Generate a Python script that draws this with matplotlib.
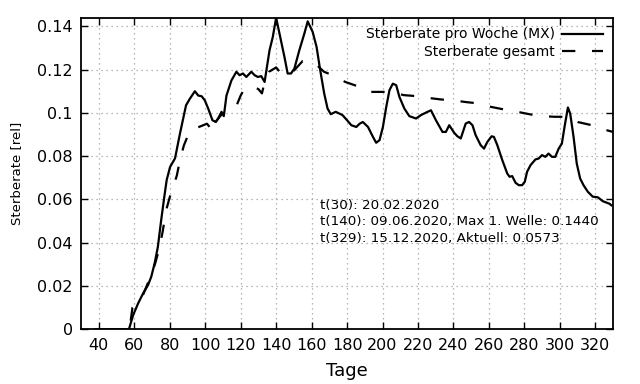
import matplotlib
matplotlib.use("Agg")
import matplotlib.pyplot as plt

# Weekly death rate (MX)
t_mx = [38, 57, 59.4, 62.2, 65, 67.8, 69.6, 71.5, 73.3, 75.2, 77, 78.3, 80.2, 83, 85.8,
        89.2, 91.4, 94.2, 96.1, 98, 99.8, 101.7, 104.1, 106, 107.3, 109.2, 110.5, 112,
        114.8, 117.6, 119.4, 121.3, 123.2, 126, 127.9, 129.7, 131.6, 133.5, 134.4, 136.3,
        138.1, 140, 141.9, 144.7, 146.5, 148.4, 150.3, 153.1, 155.9, 157.8, 160.6, 162.8,
        164.7, 167.1, 169, 170.8, 173.6, 177.4, 180, 182.4, 185.2, 187.1, 188.9, 191.8,
        194.6, 196.4, 198.3, 200.2, 202.1, 203.9, 205.8, 207.7, 209.5, 212.3, 215.1, 218.9,
        221.7, 225.4, 227.3, 230.1, 233.8, 235.7, 237.6, 240.4, 242.2, 244.1, 246.9, 248.8,
        250.7, 252.5, 255.3, 257.2, 259.1, 261.5, 262.8, 264.7, 267.5, 270.3, 271.6, 273.1,
        275, 276.8, 278.7, 280.2, 281.5, 283.4, 286.2, 288, 289.9, 291.8, 293.6, 295.5,
        297.4, 299.3, 301.1, 302.6, 304.5, 305.8, 307.7, 309.5, 311.4, 313.3, 315.7, 318.5,
        321.4, 324.2, 328, 329]
v_mx = [0, 0, 0.0066, 0.012, 0.0166, 0.0205, 0.0243, 0.0305, 0.038, 0.0505, 0.0615, 0.069,
        0.075, 0.079, 0.0905, 0.1035, 0.1066, 0.110, 0.108, 0.1077, 0.1058, 0.102, 0.0966,
        0.0958, 0.0974, 0.1005, 0.0985, 0.108, 0.115, 0.119, 0.1174, 0.1182, 0.1166, 0.119,
        0.1174, 0.1166, 0.117, 0.1143, 0.119, 0.129, 0.135, 0.1440, 0.1366, 0.1258, 0.1182,
        0.1182, 0.1205, 0.129, 0.1366, 0.1423, 0.1374, 0.1305, 0.1205, 0.109, 0.102, 0.0994,
        0.1005, 0.099, 0.0966, 0.0943, 0.0935, 0.095, 0.0958, 0.0935, 0.0889, 0.0862, 0.0874,
        0.0935, 0.1028, 0.1105, 0.1135, 0.1128, 0.1074, 0.102, 0.0985, 0.0974, 0.099, 0.1005,
        0.1012, 0.0966, 0.0912, 0.0912, 0.0943, 0.0908, 0.0892, 0.0882, 0.0951, 0.0958,
        0.0943, 0.0897, 0.0851, 0.0835, 0.0866, 0.0892, 0.0889, 0.0851, 0.0782, 0.072,
        0.0705, 0.0708, 0.0677, 0.0666, 0.0666, 0.0682, 0.0728, 0.0758, 0.0785, 0.0789,
        0.0805, 0.0797, 0.0812, 0.0797, 0.0797, 0.0835, 0.0858, 0.0935, 0.1025, 0.0997,
        0.0889, 0.0766, 0.0697, 0.0666, 0.0636, 0.0613, 0.0610, 0.0592, 0.0580, 0.0573]

# Overall death rate
t_all = [58, 59, 62, 65, 68, 70, 72, 74, 76, 78, 80, 82, 84, 86, 88, 90, 92, 95, 98, 101,
         103, 104, 106, 109, 112, 115, 118, 120, 122, 124, 127, 130, 132, 134, 136, 140,
         143, 146, 150, 155, 158, 162, 167, 170, 175, 179, 186, 192, 199, 205, 212, 220,
         226, 233, 240, 247, 255, 261, 269, 276, 284, 290, 297, 305, 310, 318, 325, 330]
v_all = [0.004, 0.010, 0.012, 0.016, 0.022, 0.026, 0.031, 0.037, 0.045, 0.055, 0.061,
         0.066, 0.071, 0.079, 0.085, 0.089, 0.092, 0.093, 0.094, 0.095, 0.093, 0.091, 0.096,
         0.099, 0.101, 0.104, 0.104, 0.108, 0.111, 0.111, 0.112, 0.111, 0.109, 0.116, 0.119,
         0.121, 0.118, 0.118, 0.1195, 0.124, 0.124, 0.1228, 0.119, 0.118, 0.116, 0.1143,
         0.1123, 0.1097, 0.1097, 0.1097, 0.1082, 0.1077, 0.1069, 0.1062, 0.1058, 0.105,
         0.1043, 0.1028, 0.1015, 0.1005, 0.0992, 0.0985, 0.0982, 0.0982, 0.0958, 0.0943,
         0.0923, 0.0912]

x_ticks = list(range(40, 321, 20))
y_ticks = [0, 0.02, 0.04, 0.06, 0.08, 0.1, 0.12, 0.14]
y_labels = ["0", "0.02", "0.04", "0.06", "0.08", "0.1", "0.12", "0.14"]

info_lines = ["t(30): 20.02.2020",
              "t(140): 09.06.2020, Max 1. Welle: 0.1440",
              "t(329): 15.12.2020, Aktuell: 0.0573"]

fig = plt.figure(figsize=(6.4, 3.84), dpi=100)
ax = fig.add_axes([0.1266, 0.1424, 0.958 - 0.1266, 0.954 - 0.1424])

ax.plot(t_mx, v_mx, color="black", lw=1.6, label="Sterberate pro Woche (MX)", zorder=3)
ax.plot(t_all, v_all, color="black", lw=1.6, dashes=(6, 7.5),
        label="Sterberate gesamt", zorder=3)

ax.set_xlim(30, 330)
ax.set_ylim(0, 0.144)
ax.set_xticks(x_ticks)
ax.set_yticks(y_ticks)
ax.set_yticklabels(y_labels)
ax.tick_params(direction="in", length=5, width=1, top=True, right=True,
               labelsize=11.5, pad=6)
ax.grid(True, color="#a0a0a0", linestyle=(0, (1, 3)), lw=0.9)
for s in ax.spines.values():
    s.set_linewidth(1.3)

ax.set_xlabel("Tage", fontsize=13, labelpad=7)
ax.set_ylabel("Sterberate [rel]", fontsize=9.5, labelpad=10)

leg = ax.legend(loc="upper right", frameon=False, markerfirst=False, fontsize=10,
                handlelength=3.0, handletextpad=0.5, labelspacing=0.25,
                borderaxespad=0.3, bbox_to_anchor=(1.0, 1.0))

ys = [0.0574, 0.0496, 0.0418]
for txt, yv in zip(info_lines, ys):
    ax.text(165, yv, txt, fontsize=9.7, va="center", ha="left", zorder=4)

fig.savefig("out.png", dpi=100)
